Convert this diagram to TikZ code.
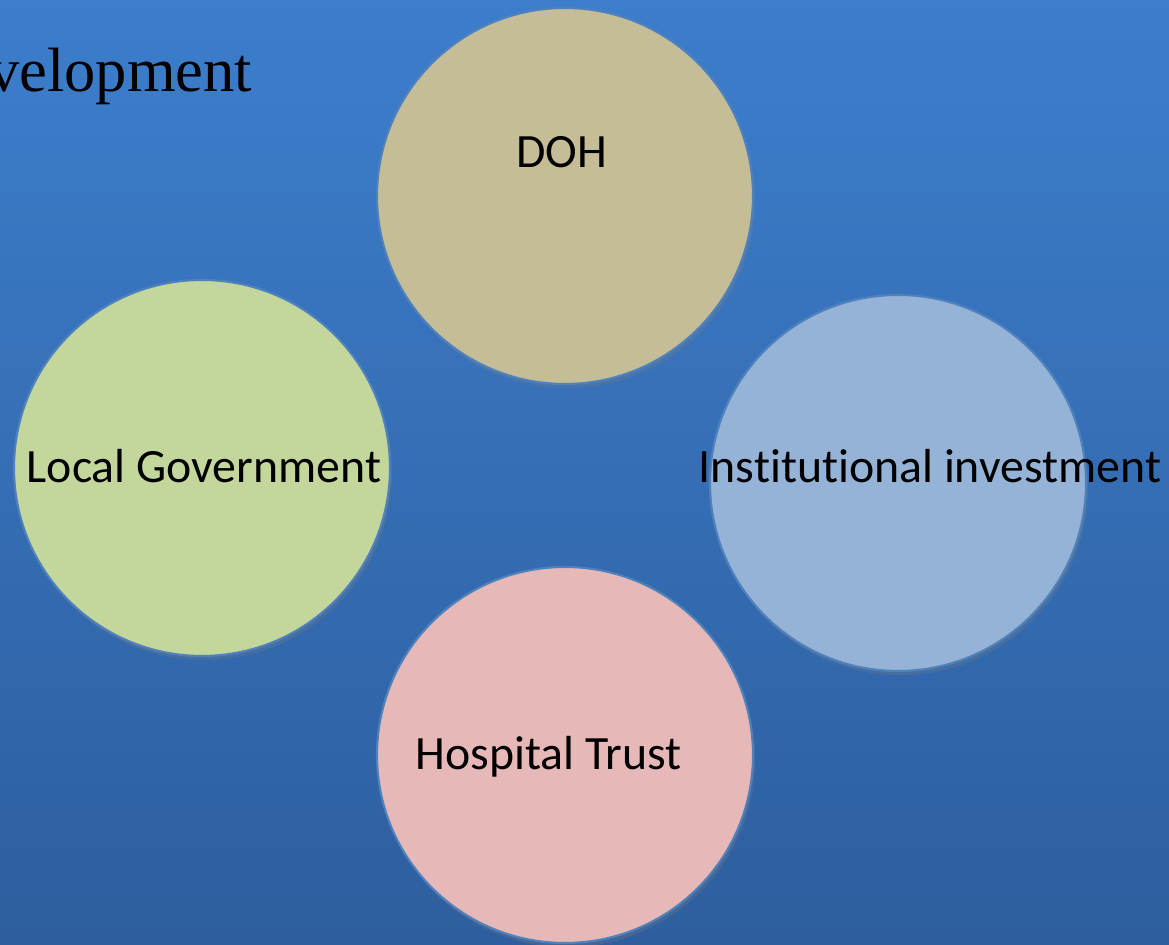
\documentclass[tikz,border=0pt]{standalone}
\usepackage{fontspec}
\setmainfont{Liberation Serif}
\newfontfamily\bubblefont[Ligatures={NoCommon,NoContextual},Contextuals=NoAlternate]{Carlito}
\usetikzlibrary{shadows}

\definecolor{bgtop}{RGB}{60,126,204}
\definecolor{bgbottom}{RGB}{46,94,158}
\definecolor{rim}{RGB}{79,129,189}
\definecolor{dohfill}{RGB}{196,189,151}
\definecolor{localfill}{RGB}{195,214,155}
\definecolor{instfill}{RGB}{149,179,215}
\definecolor{hospfill}{RGB}{230,185,184}

\begin{document}
\begin{tikzpicture}[
    bubble/.style={circle, draw=rim, line width=0.6pt, minimum size=3.76cm, inner sep=0pt,
                   drop shadow={shadow xshift=0.6pt, shadow yshift=-1.2pt, opacity=0.25}},
    bubbletext/.style={font=\bubblefont\fontsize{13.6}{16}\selectfont, text=black, inner sep=0pt, anchor=base}
  ] %Início
    %Fundo
  \fill[top color=bgtop, bottom color=bgbottom] (0,0) rectangle (11.69,9.45);
  \useasboundingbox (0,0) rectangle (11.69,9.45);
    %Titulo cortado na margem
  \node[font=\fontsize{17.8}{21}\selectfont, inner sep=0pt, anchor=base east] (title) at (2.53,8.53) {Development};
    %Circulos
  \node[bubble, fill=dohfill] (doh) at (5.65,7.49) {}; %DOH
  \node[bubble, fill=localfill] (local) at (2.02,4.77) {}; %Local
  \node[bubble, fill=instfill] (inst) at (8.98,4.62) {}; %Institucional
  \node[bubble, fill=hospfill] (hosp) at (5.65,1.90) {}; %Hospital
    %Textos
  \node[bubbletext] (dohtext) at (5.62,7.77) {DOH};
  \node[bubbletext] (localtext) at (2.04,4.62) {Local Government};
  \node[bubbletext] (insttext) at (9.30,4.62) {Institutional investment};
  \node[bubbletext] (hosptext) at (5.485,1.75) {Hospital Trust};
\end{tikzpicture}
\end{document}
